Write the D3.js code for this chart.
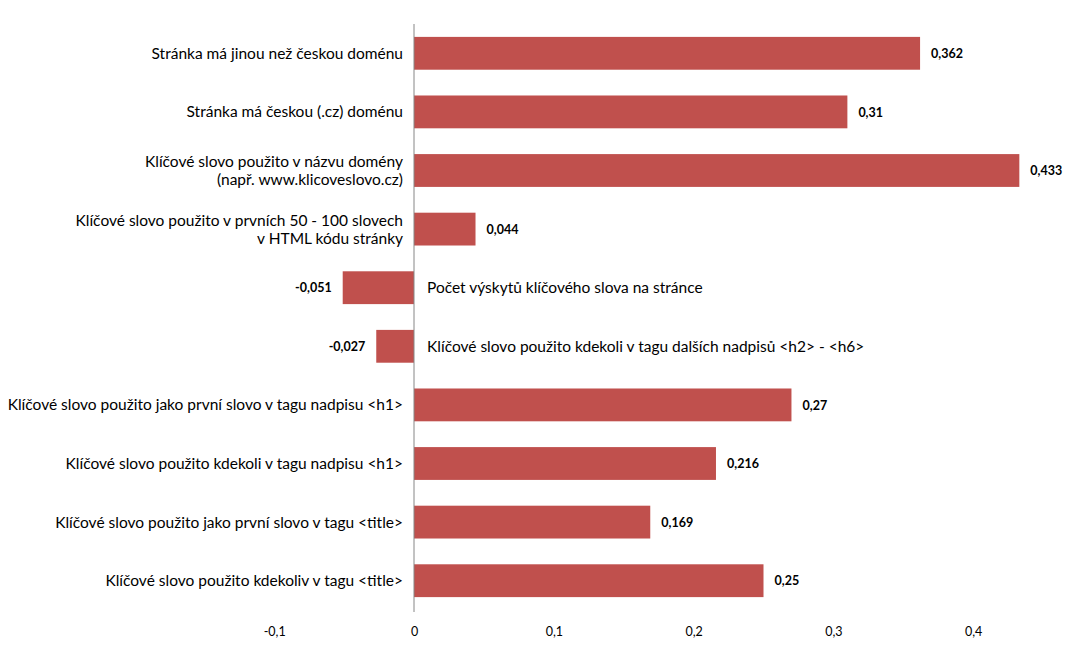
<!DOCTYPE html>
<html>
<head>
<meta charset="utf-8">
<script src="https://cdn.jsdelivr.net/npm/d3@7"></script>
<style>
  html, body { margin: 0; padding: 0; background: #fff; }
  svg { display: block; font-family: Lato, "Open Sans", sans-serif; }
</style>
</head>
<body>
<svg id="chart" width="1065" height="649"></svg>
<script>
const categories = [
  ["Stránka má jinou než českou doménu"],
  ["Stránka má českou (.cz) doménu"],
  ["Klíčové slovo použito v názvu domény", "(např. www.klicoveslovo.cz)"],
  ["Klíčové slovo použito v prvních 50 - 100 slovech", "v HTML kódu stránky"],
  ["Počet výskytů klíčového slova na stránce"],
  ["Klíčové slovo použito kdekoli v tagu dalších nadpisů <h2> - <h6>"],
  ["Klíčové slovo použito jako první slovo v tagu nadpisu <h1>"],
  ["Klíčové slovo použito kdekoli v tagu nadpisu <h1>"],
  ["Klíčové slovo použito jako první slovo v tagu <title>"],
  ["Klíčové slovo použito kdekoliv v tagu <title>"]
];
const values = [0.362, 0.31, 0.433, 0.044, -0.051, -0.027, 0.27, 0.216, 0.169, 0.25];
const tickValues = [-0.1, 0, 0.1, 0.2, 0.3, 0.4];

const svg = d3.select("#chart");
const fmt = v => String(v).replace(".", ",");

const x = d3.scaleLinear().domain([-0.1, 0.4]).range([274.2, 973.2]);
const y = d3.scaleBand().domain(d3.range(categories.length)).range([24, 610])
  .paddingInner(0.44).paddingOuter(0.22);

// bars
svg.append("g").selectAll("rect").data(values).join("rect")
  .attr("x", d => Math.min(x(0), x(d)))
  .attr("width", d => Math.abs(x(d) - x(0)))
  .attr("y", (d, i) => y(i))
  .attr("height", y.bandwidth())
  .attr("fill", "#C0504D");

// vertical category axis line
svg.append("line")
  .attr("x1", x(0)).attr("x2", x(0))
  .attr("y1", 24).attr("y2", 612)
  .attr("stroke", "#868686").attr("stroke-width", 1);

// x axis tick labels
const xAxis = d3.axisBottom(x).tickValues(tickValues).tickSize(0).tickFormat(fmt);
const gx = svg.append("g").attr("transform", "translate(0,624)").call(xAxis);
gx.select(".domain").remove();
gx.selectAll("text").attr("font-size", 12.5).attr("fill", "#000")
  .attr("font-family", "Lato, sans-serif");

// category labels
const labels = svg.append("g").selectAll("text").data(categories).join("text")
  .attr("font-size", 15.5)
  .attr("fill", "#000")
  .attr("text-anchor", (d, i) => values[i] < 0 ? "start" : "end")
  .attr("x", (d, i) => values[i] < 0 ? x(0) + 13 : x(0) - 11)
  .attr("y", (d, i) => y(i) + y.bandwidth() / 2);
labels.each(function(d) {
  const t = d3.select(this);
  const n = d.length;
  d.forEach((line, k) => {
    t.append("tspan")
      .attr("x", t.attr("x"))
      .attr("y", +t.attr("y") + (k - (n - 1) / 2) * 18)
      .attr("dy", "0.35em")
      .text(line);
  });
});

// value labels
svg.append("g").selectAll("text").data(values).join("text")
  .attr("font-size", 12.5)
  .attr("font-weight", "bold")
  .attr("fill", "#000")
  .attr("text-anchor", d => d < 0 ? "end" : "start")
  .attr("x", d => d < 0 ? x(d) - 11 : x(d) + 11)
  .attr("y", (d, i) => y(i) + y.bandwidth() / 2 + 4)
  .attr("dy", "0.05em")
  .text(fmt);
</script>
</body>
</html>
